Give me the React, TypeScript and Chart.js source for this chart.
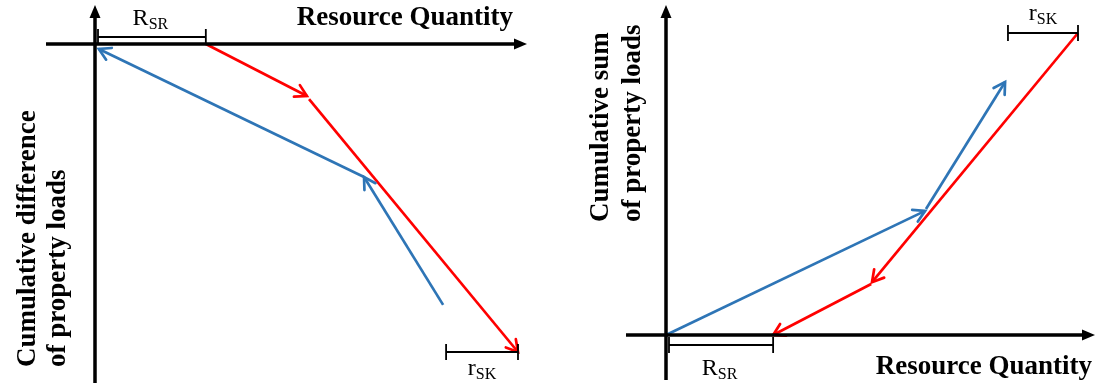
import React, { useEffect, useRef } from "react";
import { Chart, registerables } from "chart.js";

Chart.register(...registerables);

// ---------- DATA (abstract units: x 0..10 resource quantity, y 0..±10 cumulative loads) ----------
// Left panel: cumulative difference of property loads
const leftRedOut1 = [
  { x: 2.62, y: 0 },
  { x: 5.01, y: -1.69 },
];
const leftRedOut2 = [
  { x: 5.06, y: -1.79 },
  { x: 10, y: -10 },
];
const leftBlueBack1 = [
  { x: 8.23, y: -8.47 },
  { x: 6.36, y: -4.32 },
];
const leftBlueBack2 = [
  { x: 6.36, y: -4.32 },
  { x: 0.09, y: -0.16 },
];
const leftRsr = [0, 2.62];
const leftRsk = [8.3, 10];

// Right panel: cumulative sum of property loads
const rightRedBack1 = [
  { x: 10, y: 10 },
  { x: 5.0, y: 1.75 },
];
const rightRedBack2 = [
  { x: 4.98, y: 1.69 },
  { x: 2.6, y: 0 },
];
const rightBlueOut1 = [
  { x: 0, y: 0 },
  { x: 6.29, y: 4.11 },
];
const rightBlueOut2 = [
  { x: 6.31, y: 4.17 },
  { x: 8.23, y: 8.38 },
];
const rightRsr = [0, 2.6];
const rightRsk = [8.3, 10];

const xTitle = "Resource Quantity";
const leftYTitle = ["Cumulative difference", "of property loads"];
const rightYTitle = ["Cumulative sum", "of property loads"];

// ---------- STYLE ----------
const RED = "#FF0000";
const BLUE = "#2E75B6";
const SERIF = '"Liberation Serif", "Times New Roman", serif';

function drawSubLabel(ctx: CanvasRenderingContext2D, main: string, sub: string, cx: number, baseline: number) {
  ctx.fillStyle = "#000";
  ctx.textBaseline = "alphabetic";
  ctx.textAlign = "left";
  ctx.font = `24px ${SERIF}`;
  const w1 = ctx.measureText(main).width;
  ctx.font = `16px ${SERIF}`;
  const w2 = ctx.measureText(sub).width;
  const x0 = cx - (w1 + w2) / 2;
  ctx.font = `24px ${SERIF}`;
  ctx.fillText(main, x0, baseline);
  ctx.font = `16px ${SERIF}`;
  ctx.fillText(sub, x0 + w1, baseline + 4);
}

function drawBracket(ctx: CanvasRenderingContext2D, x0: number, x1: number, y: number) {
  ctx.lineWidth = 1.8;
  ctx.strokeStyle = "#000";
  ctx.beginPath();
  ctx.moveTo(x0, y);
  ctx.lineTo(x1, y);
  ctx.moveTo(x0, y - 8);
  ctx.lineTo(x0, y + 8);
  ctx.moveTo(x1, y - 8);
  ctx.lineTo(x1, y + 8);
  ctx.stroke();
}

const diagramPlugin = {
  id: "diagram",
  afterDatasetsDraw(chart: any, _args: any, o: any) {
    const ctx: CanvasRenderingContext2D = chart.ctx;
    const xs = chart.scales.x;
    const ys = chart.scales.y;
    const ox = xs.getPixelForValue(0);
    const oy = ys.getPixelForValue(0);
    ctx.save();

    // arrowheads on the paths
    chart.data.datasets.forEach((ds: any, i: number) => {
      const pts = chart.getDatasetMeta(i).data;
      const a = pts[pts.length - 2];
      const b = pts[pts.length - 1];
      const ang = Math.atan2(b.y - a.y, b.x - a.x);
      const L = 13;
      const th = (30 * Math.PI) / 180;
      ctx.strokeStyle = ds.borderColor;
      ctx.lineWidth = 2.7;
      ctx.lineCap = "round";
      ctx.beginPath();
      ctx.moveTo(b.x - L * Math.cos(ang - th), b.y - L * Math.sin(ang - th));
      ctx.lineTo(b.x, b.y);
      ctx.lineTo(b.x - L * Math.cos(ang + th), b.y - L * Math.sin(ang + th));
      ctx.stroke();
    });
    ctx.lineCap = "butt";

    // axes
    ctx.strokeStyle = "#000";
    ctx.fillStyle = "#000";
    ctx.lineWidth = 3.5;
    const [xl, xr] = o.xAxis;
    const [yt, yb] = o.yAxis;
    ctx.beginPath();
    ctx.moveTo(ox + xl, oy);
    ctx.lineTo(ox + xr - 8, oy);
    ctx.moveTo(ox, oy + yb);
    ctx.lineTo(ox, oy + yt + 8);
    ctx.stroke();
    ctx.beginPath();
    ctx.moveTo(ox + xr, oy);
    ctx.lineTo(ox + xr - 13, oy - 5.5);
    ctx.lineTo(ox + xr - 13, oy + 5.5);
    ctx.closePath();
    ctx.fill();
    ctx.beginPath();
    ctx.moveTo(ox, oy + yt);
    ctx.lineTo(ox - 5.5, oy + yt + 13);
    ctx.lineTo(ox + 5.5, oy + yt + 13);
    ctx.closePath();
    ctx.fill();

    // brackets + labels
    const rsrY = oy + o.rsrDy;
    drawBracket(ctx, xs.getPixelForValue(o.rsr[0]) + 3, xs.getPixelForValue(o.rsr[1]), rsrY);
    drawSubLabel(ctx, "R", "SR", (xs.getPixelForValue(o.rsr[0]) + xs.getPixelForValue(o.rsr[1])) / 2, rsrY + o.rsrLabelDy);
    const rskY = ys.getPixelForValue(o.rskY);
    drawBracket(ctx, xs.getPixelForValue(o.rsk[0]), xs.getPixelForValue(o.rsk[1]), rskY);
    drawSubLabel(ctx, "r", "SK", (xs.getPixelForValue(o.rsk[0]) + xs.getPixelForValue(o.rsk[1])) / 2, rskY + o.rskLabelDy);

    // x title
    ctx.fillStyle = "#000";
    ctx.font = `bold 27px ${SERIF}`;
    ctx.textAlign = "right";
    ctx.textBaseline = "alphabetic";
    ctx.fillText(xTitle, ox + o.xTitle[0], oy + o.xTitle[1]);

    // y title (two lines, rotated)
    o.yTitle.forEach((line: string, i: number) => {
      ctx.save();
      ctx.translate(ox + o.yTitleX[i], oy + o.yTitleStart);
      ctx.rotate(-Math.PI / 2);
      ctx.textAlign = "left";
      ctx.textBaseline = "middle";
      ctx.fillText(line, 0, 0);
      ctx.restore();
    });

    ctx.restore();
  },
};

function lineDs(data: any[], color: string) {
  return {
    data,
    showLine: true,
    borderColor: color,
    backgroundColor: color,
    borderWidth: 2.7,
    pointRadius: 0,
    fill: false,
    clip: false,
  };
}

function makeChart(canvas: HTMLCanvasElement, datasets: any[], yMin: number, yMax: number, padding: any, diag: any) {
  return new Chart(canvas, {
    type: "scatter",
    data: { datasets },
    options: {
      responsive: false,
      animation: false,
      events: [],
      layout: { padding },
      scales: {
        x: { type: "linear", min: 0, max: 10, display: false },
        y: { type: "linear", min: yMin, max: yMax, display: false },
      },
      plugins: {
        legend: { display: false },
        tooltip: { enabled: false },
        diagram: diag,
      } as any,
    },
    plugins: [diagramPlugin as any],
  });
}

export default function App() {
  const leftRef = useRef<HTMLCanvasElement>(null);
  const rightRef = useRef<HTMLCanvasElement>(null);

  useEffect(() => {
    const left = makeChart(
      leftRef.current!,
      [
        lineDs(leftRedOut1, RED),
        lineDs(leftRedOut2, RED),
        lineDs(leftBlueBack1, BLUE),
        lineDs(leftBlueBack2, BLUE),
      ],
      -10,
      0,
      { left: 95, right: 30, top: 44, bottom: 36 },
      {
        xAxis: [-49, 432],
        yAxis: [-39, 339],
        rsr: leftRsr,
        rsrDy: -7,
        rsrLabelDy: -12,
        rsk: leftRsk,
        rskY: -10,
        rskLabelDy: 23,
        xTitle: [418, -19],
        yTitle: leftYTitle,
        yTitleX: [-67, -37],
        yTitleStart: 323,
      }
    );
    const right = makeChart(
      rightRef.current!,
      [
        lineDs(rightRedBack1, RED),
        lineDs(rightRedBack2, RED),
        lineDs(rightBlueOut1, BLUE),
        lineDs(rightBlueOut2, BLUE),
      ],
      0,
      10,
      { left: 118, right: 19, top: 33, bottom: 53 },
      {
        xAxis: [-40, 429],
        yAxis: [-330, 45],
        rsr: rightRsr,
        rsrDy: 10,
        rsrLabelDy: 30,
        rsk: rightRsk,
        rskY: 10,
        rskLabelDy: -13,
        xTitle: [426, 39],
        yTitle: rightYTitle,
        yTitleX: [-65, -33],
        yTitleStart: -113,
      }
    );
    return () => {
      left.destroy();
      right.destroy();
    };
  }, []);

  return (
    <div style={{ position: "fixed", left: 0, top: 0, width: 1097, height: 388, background: "#fff" }}>
      <canvas ref={leftRef} width={548} height={388} style={{ position: "absolute", left: 0, top: 0 }} />
      <canvas ref={rightRef} width={549} height={388} style={{ position: "absolute", left: 548, top: 0 }} />
    </div>
  );
}
